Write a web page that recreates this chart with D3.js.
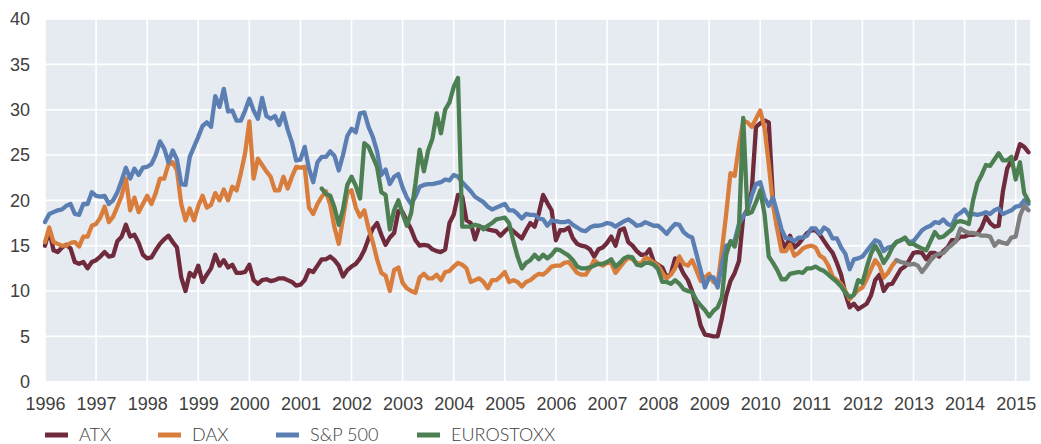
<!DOCTYPE html>
<html lang="en">
<head>
    <meta charset="UTF-8">
    <title>Volatility indices</title>
    <style>
        body, html {
            margin: 0;
            background-color: #ffffff;
        }
        svg {
            display: block;
            font-family: "Lato", "Open Sans", sans-serif;
        }
        .tick-label {
            fill: #404040;
            font-size: 18px;
            font-weight: 300;
        }
        .legend-label {
            fill: #404040;
            font-size: 18px;
            font-weight: 300;
        }
    </style>
</head>
<body>
    <script src="https://d3js.org/d3.v7.min.js"></script>
    <script>
        // monthly values, first value = start month of each series
        var years = d3.range(1996, 2016);
        var yTicks = d3.range(0, 41, 5);

        var atxStart = [1996, 0];
        var atx = [
            15.0, 16.7, 14.5, 14.3, 14.8, 15.1, 14.7, 13.2, 13.0, 13.2, 12.5, 13.2,
            13.4, 13.8, 14.3, 13.8, 13.9, 15.5, 16.0, 17.3, 16.0, 16.2, 15.3, 14.0,
            13.6, 13.7, 14.5, 15.2, 15.7, 16.1, 15.4, 14.8, 11.5, 10.0, 12.0, 11.6,
            12.8, 11.0, 11.8, 12.5, 14.0, 12.8, 13.4, 12.6, 12.9, 12.0, 12.0, 12.1,
            12.9, 11.2, 10.8, 11.2, 11.3, 11.1, 11.2, 11.4, 11.4, 11.2, 11.0, 10.6,
            10.7, 11.2, 12.3, 12.1, 12.8, 13.5, 13.5, 13.8, 13.4, 12.8, 11.6, 12.3,
            12.7, 13.0, 13.6, 14.5, 15.8, 16.9, 17.5, 16.2, 15.1, 15.9, 16.4, 18.8,
            18.7, 17.7, 16.8, 15.6, 15.0, 15.1, 15.0, 14.6, 14.4, 14.3, 14.6, 17.5,
            18.4, 20.6, 20.4, 17.8, 17.5, 15.7, 17.1, 17.0, 16.8, 16.7, 16.6, 16.1,
            16.6, 17.0, 16.6, 16.2, 15.8, 16.7, 17.5, 17.1, 18.6, 20.6, 19.7, 18.9,
            15.6, 16.7, 16.7, 17.0, 15.8, 15.2, 15.0, 14.9, 14.6, 13.8, 14.6, 14.8,
            15.3, 16.0, 15.0, 16.7, 16.9, 15.4, 15.0, 14.4, 14.0, 14.0, 14.6, 13.2,
            12.9, 12.6, 11.5, 11.9, 13.6, 12.9, 11.9, 11.2, 10.0, 8.2, 6.2, 5.2,
            5.1, 5.0, 5.0, 7.0, 9.5, 11.1, 12.0, 13.3, 18.2, 19.0, 21.0, 28.1,
            28.5, 28.8, 28.6, 20.0, 17.0, 15.6, 14.7, 16.1, 14.8, 15.2, 15.8, 16.4,
            16.7, 16.7, 16.2, 15.5, 14.8, 14.2, 13.1, 11.8, 9.7, 8.2, 8.6, 8.0,
            8.3, 8.6, 9.5, 11.2, 11.8, 10.0, 10.7, 10.8, 11.6, 12.4, 12.7, 13.4,
            14.2, 14.3, 14.2, 13.5, 14.2, 14.2, 13.8, 14.4, 14.8, 15.6, 15.6, 16.0,
            16.0, 16.2, 16.2, 16.3, 17.0, 18.2, 17.5, 17.1, 17.2, 21.0, 23.5, 24.4,
            24.6, 26.2, 25.9, 25.3
        ];

        var daxStart = [1996, 0];
        var dax = [
            15.4, 17.0, 15.4, 15.2, 15.0, 15.0, 15.3, 15.4, 14.9, 16.0, 16.0, 17.2,
            17.4, 18.1, 19.3, 17.6, 18.2, 19.3, 20.5, 22.4, 18.9, 20.3, 18.7, 19.6,
            20.5, 19.6, 20.8, 22.4, 22.4, 24.0, 24.2, 23.3, 19.6, 17.8, 19.1, 17.8,
            19.4, 20.5, 19.2, 19.5, 20.8, 20.0, 21.2, 20.0, 21.5, 21.1, 23.0, 25.2,
            28.7, 22.4, 24.6, 23.9, 23.2, 22.6, 21.1, 21.1, 22.6, 21.3, 22.6, 23.7,
            23.6, 23.7, 19.2, 18.5, 19.6, 20.4, 21.0, 19.5, 17.0, 15.2, 18.0, 20.8,
            21.1, 19.2, 18.2, 18.9, 16.9, 15.4, 13.5, 12.0, 11.7, 10.0, 12.3, 12.6,
            10.9, 10.3, 10.0, 9.8, 11.5, 11.9, 11.4, 11.4, 11.8, 11.2, 12.1, 12.2,
            12.7, 13.1, 12.9, 12.5, 11.0, 11.2, 11.4, 11.0, 10.3, 11.2, 11.2, 11.6,
            12.1, 11.0, 11.2, 11.0, 10.5, 11.0, 11.2, 11.6, 11.9, 11.8, 12.2, 12.7,
            12.8, 12.8, 13.1, 13.2, 12.6, 12.0, 11.8, 11.8, 12.5, 13.4, 13.0, 12.8,
            13.1, 13.1, 12.0, 12.6, 13.2, 13.7, 13.5, 13.1, 13.0, 13.7, 13.5, 13.1,
            12.8, 12.0, 11.4, 11.8, 12.5, 13.8, 13.0, 12.8, 13.4, 12.3, 11.1, 11.5,
            11.9, 11.0, 10.8, 14.5, 18.5, 23.0, 22.7, 26.0, 28.8, 28.6, 28.1, 29.0,
            29.9, 28.0, 24.0, 19.5, 16.8, 14.4, 14.4, 15.1, 13.9, 14.2, 14.7, 14.9,
            15.0, 14.8, 13.9, 13.6, 12.8, 11.6, 11.2, 10.8, 10.0, 9.1, 9.6, 10.1,
            10.4, 11.3, 12.4, 13.4, 12.8, 11.5, 12.0, 12.8, 13.4
        ];

        // grey continuation, not in the legend
        var daxGreyStart = [2012, 8];
        var daxGrey = [
            13.4, 13.2, 13.1, 12.9,
            13.0, 12.8, 12.1, 12.7, 13.4, 13.9, 14.1, 14.2, 14.7, 15.1, 15.5, 16.9,
            16.6, 16.4, 16.4, 16.3, 16.1, 16.1, 16.0, 15.0, 15.5, 15.3, 15.2, 15.9,
            16.0, 18.3, 19.4, 18.9
        ];

        var spStart = [1996, 0];
        var sp500 = [
            17.6, 18.5, 18.7, 18.9, 19.0, 19.4, 19.6, 18.5, 18.4, 19.6, 19.6, 20.9,
            20.5, 20.4, 20.5, 19.6, 20.0, 20.9, 22.2, 23.6, 22.4, 23.5, 22.8, 23.6,
            23.7, 24.0, 25.0, 26.5, 25.7, 24.2, 25.5, 24.5, 21.8, 21.7, 24.8, 25.9,
            27.0, 28.2, 28.6, 28.1, 31.5, 30.3, 32.3, 29.8, 29.9, 28.8, 28.8, 29.9,
            31.2, 29.9, 29.0, 31.3, 29.3, 29.0, 29.3, 28.3, 29.6, 27.8, 26.4, 24.4,
            24.5, 25.9, 23.5, 22.0, 24.2, 24.8, 24.8, 25.4, 24.9, 23.3, 25.0, 27.1,
            27.9, 27.5, 29.6, 29.7, 28.1, 27.0, 25.4, 22.8, 23.4, 21.8, 22.6, 22.9,
            21.4, 20.3, 19.6, 20.4, 21.5, 21.7, 21.8, 21.8, 21.9, 22.0, 22.3, 22.2,
            22.8, 22.6, 22.0, 21.5, 21.0, 20.4, 20.1, 19.8, 19.3, 19.0, 19.2, 19.4,
            19.6, 18.9, 18.9, 18.5, 18.0, 18.5, 18.4, 18.4, 18.0, 17.9, 17.2, 17.8,
            17.7, 17.6, 17.6, 17.7, 17.3, 17.0, 16.7, 16.6, 17.0, 17.2, 17.2, 17.3,
            17.5, 17.4, 17.1, 17.4, 17.7, 17.9, 17.6, 17.2, 17.3, 17.6, 17.4, 17.2,
            17.2, 16.8, 16.3, 16.9, 17.4, 17.3, 16.5, 16.1, 15.9, 14.1, 12.3, 10.4,
            11.5, 11.5, 10.4, 13.0, 15.0, 15.2, 15.6, 17.4, 18.2, 18.9, 20.5, 21.8,
            22.0, 20.3, 19.4, 20.3, 18.6, 16.8, 15.8, 15.8, 15.5, 15.9, 15.9, 16.1,
            16.9, 16.9, 16.3, 17.0, 16.7, 15.8, 15.8, 14.8, 14.1, 12.4, 13.5, 13.6,
            13.8, 14.4, 15.0, 15.6, 15.4, 14.4, 14.8, 14.9, 15.4, 15.6, 15.8, 15.4,
            15.5, 16.1, 16.7, 17.0, 17.2, 17.6, 17.5, 17.9, 17.4, 17.2, 18.3, 18.6,
            19.0, 18.3, 18.5, 18.4, 18.5, 18.7, 18.5, 18.9, 19.1, 18.5, 18.7, 18.9,
            19.3, 19.4, 20.0, 19.6
        ];

        var euroStart = [2001, 5];
        var eurostoxx = [
            21.3, 20.7, 20.5, 19.2, 17.3, 19.0, 21.7,
            22.6, 21.6, 20.2, 26.3, 25.9, 24.8, 23.7, 20.9, 20.6, 16.8, 18.9, 20.0,
            18.5, 17.2, 18.6, 21.8, 25.6, 23.2, 25.5, 26.8, 29.6, 27.4, 30.0, 30.8,
            32.5, 33.5, 17.1, 17.1, 17.1, 17.3, 17.2, 16.8, 17.2, 17.5, 17.9, 18.0,
            18.1, 17.5, 15.5, 13.8, 12.5, 13.1, 13.4, 14.0, 13.5, 14.0, 13.6, 14.0,
            14.6, 14.5, 14.2, 13.9, 13.4, 12.7, 12.5, 12.5, 12.6, 12.8, 13.0, 13.0,
            13.2, 13.5, 12.7, 13.1, 13.6, 13.8, 13.7, 12.9, 12.8, 13.1, 13.1, 12.9,
            12.4, 11.0, 11.0, 10.8, 11.2, 10.8, 10.2, 10.0, 9.9, 9.0, 8.4, 7.9,
            7.2, 7.8, 8.2, 9.3, 14.0, 15.5, 14.9, 17.0, 29.1, 18.5, 18.7, 19.8,
            21.1, 18.5, 13.8, 13.1, 12.3, 11.3, 11.3, 11.9, 12.0, 12.1, 12.0, 12.5,
            12.5, 12.7, 12.4, 12.2, 11.8, 11.4, 11.0, 10.5, 9.8, 9.3, 9.6, 11.2,
            10.9, 12.6, 14.1, 15.0, 14.2, 13.1, 13.8, 14.8, 15.4, 15.6, 15.9, 15.2,
            15.2, 14.9, 14.7, 14.5, 15.5, 16.5, 15.9, 16.0, 16.4, 16.8, 17.6, 17.7,
            17.6, 17.4, 20.0, 21.9, 22.8, 23.9, 23.8, 24.5, 25.2, 24.4, 24.4, 24.8,
            22.3, 24.2, 20.8, 19.9
        ];

        var series = [
            { name: "ATX", color: "#6f2a3b", start: atxStart, values: atx, legend: true },
            { name: "DAX", color: "#d87d3c", start: daxStart, values: dax, legend: true },
            { name: "S&P 500", color: "#5b7fb3", start: spStart, values: sp500, legend: true },
            { name: "EUROSTOXX", color: "#4c7f51", start: euroStart, values: eurostoxx, legend: true },
            { name: "DAX grey", color: "#7f7f7f", start: daxGreyStart, values: daxGrey, legend: false }
        ];

        var width = 1041,
            height = 444;

        var svg = d3.select("body").append("svg")
            .attr("width", width)
            .attr("height", height);

        var x = d3.scaleLinear()
            .domain([1996, 2015.28])
            .range([45, 1030]);

        var y = d3.scaleLinear()
            .domain([0, 40])
            .range([381.7, 19]);

        // plot background
        svg.append("rect")
            .attr("x", x(1996))
            .attr("y", y(40))
            .attr("width", x(2015.28) - x(1996))
            .attr("height", y(0) - y(40))
            .attr("fill", "#e6eaf1");

        // grid
        svg.append("g").selectAll("line")
            .data(yTicks)
            .enter().append("line")
            .attr("x1", x(1996))
            .attr("x2", x(2015.28))
            .attr("y1", function(d) { return y(d); })
            .attr("y2", function(d) { return y(d); })
            .attr("stroke", "#ffffff")
            .attr("stroke-width", 1.6);

        svg.append("g").selectAll("line")
            .data(years)
            .enter().append("line")
            .attr("x1", function(d) { return x(d); })
            .attr("x2", function(d) { return x(d); })
            .attr("y1", y(0))
            .attr("y2", y(40))
            .attr("stroke", "#ffffff")
            .attr("stroke-width", 1.6);

        // axes labels
        var yAxis = d3.axisLeft(y).tickValues(yTicks).tickSize(0).tickPadding(15);
        var gy = svg.append("g")
            .attr("transform", "translate(" + x(1996) + ",0)")
            .call(yAxis);
        gy.select(".domain").remove();
        gy.selectAll("text").attr("class", "tick-label").attr("font-family", null).attr("font-size", null);

        var xAxis = d3.axisBottom(x).tickValues(years).tickFormat(d3.format("d")).tickSize(0).tickPadding(16);
        var gx = svg.append("g")
            .attr("transform", "translate(0," + y(0) + ")")
            .call(xAxis);
        gx.select(".domain").remove();
        gx.selectAll("text").attr("class", "tick-label").attr("font-family", null).attr("font-size", null);

        // lines
        var line = d3.line()
            .x(function(d) { return x(d.t); })
            .y(function(d) { return y(d.v); });

        series.forEach(function(s) {
            var pts = s.values.map(function(v, i) {
                return { t: s.start[0] + (s.start[1] + i) / 12, v: v };
            });
            svg.append("path")
                .datum(pts)
                .attr("d", line)
                .attr("fill", "none")
                .attr("stroke", s.color)
                .attr("stroke-width", 4.3)
                .attr("stroke-linejoin", "round")
                .attr("stroke-linecap", "round");
        });

        // legend
        var legendX = [45, 158, 276, 417];
        var legend = svg.append("g").selectAll("g")
            .data(series.filter(function(s) { return s.legend; }))
            .enter().append("g")
            .attr("transform", function(d, i) { return "translate(" + legendX[i] + ",435)"; });

        legend.append("line")
            .attr("x1", 0)
            .attr("x2", 23)
            .attr("stroke", function(d) { return d.color; })
            .attr("stroke-width", 5);

        legend.append("text")
            .attr("class", "legend-label")
            .attr("x", 34)
            .attr("dy", "0.35em")
            .text(function(d) { return d.name; });
    </script>
</body>
</html>
